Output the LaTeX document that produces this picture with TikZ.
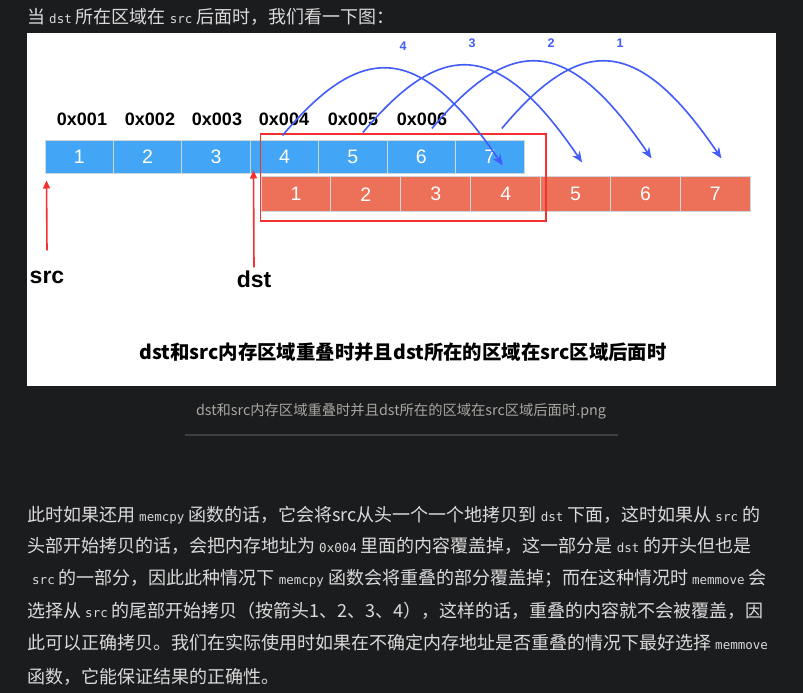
\documentclass[tikz,border=0pt]{standalone}
\usepackage{fontspec}
\setmainfont{Liberation Sans}
\newfontfamily\cjk{Noto Sans CJK SC}
\newfontfamily\codefont{DejaVu Sans Mono}
\usetikzlibrary{arrows.meta,calc}

\newlength{\du}
\setlength{\du}{1pt}

\definecolor{pagebg}{RGB}{27,28,30}
\definecolor{bodytext}{RGB}{218,218,218}
\definecolor{filetext}{RGB}{168,166,160}
\definecolor{rulegray}{RGB}{62,63,66}
\definecolor{cellblue}{RGB}{66,165,245}
\definecolor{cellred}{RGB}{237,112,88}
\definecolor{cellline}{RGB}{205,215,222}
\definecolor{arcblue}{RGB}{66,92,250}
\definecolor{ptrred}{RGB}{245,48,48}

\newcommand{\inlinecode}[1]{{\codefont\fontsize{12.5}{14}\selectfont #1}}

\tikzset{
  srccell/.style={rectangle, fill=cellblue, draw=cellline, line width=1\du,
    minimum width=68.4\du, minimum height=33\du, inner sep=0pt,
    text=white, font=\fontsize{19.5}{22}\selectfont},
  dstcell/.style={srccell, fill=cellred, minimum width=69.9\du, minimum height=34.5\du},
  addr/.style={inner sep=0pt, font=\bfseries\fontsize{18}{20}\selectfont},
  ptrlabel/.style={inner sep=0pt, font=\bfseries\fontsize{23}{25}\selectfont},
  ptr/.style={draw=ptrred, line width=1.6\du, -{Triangle[length=8pt,width=7pt]}},
  overlap/.style={draw=ptrred, line width=1.8\du},
  copyarrow/.style={draw=arcblue, line width=1.6\du, -{Stealth[length=11pt,width=9pt]}},
  arcnum/.style={inner sep=0pt, text=arcblue, font=\bfseries\fontsize{12.5}{14}\selectfont},
  figcap/.style={inner sep=0pt, font=\cjk\bfseries\fontsize{19.4}{22}\selectfont},
  bodyline/.style={anchor=west, inner sep=0pt, text=bodytext, font=\cjk\fontsize{18}{20}\selectfont},
  filecap/.style={inner sep=0pt, text=filetext, font=\cjk\fontsize{14.3}{16}\selectfont},
}

\begin{document}
\begin{tikzpicture}
\pgftransformxscale{1.000000}
\pgftransformyscale{-1.000000}
\useasboundingbox (0\du,0\du) rectangle (803\du,693\du);
\fill[pagebg] (0\du,0\du) rectangle (803\du,693\du);
\node[bodyline] (intro) at (27\du,17\du){当 \inlinecode{dst} 所在区域在 \inlinecode{src} 后面时，我们看一下图：};
\fill[white] (27\du,33\du) rectangle (776\du,386\du);

% src row
\node[srccell] (b1) at (79.2\du,156.5\du){1};
\node[srccell] (b2) at (147.6\du,156.5\du){2};
\node[srccell] (b3) at (216.1\du,156.5\du){3};
\node[srccell] (b4) at (284.5\du,156.5\du){4};
\node[srccell] (b5) at (352.9\du,156.5\du){5};
\node[srccell] (b6) at (421.4\du,156.5\du){6};
\node[srccell] (b7) at (489.8\du,156.5\du){7};

% dst row
\node[dstcell] (r1) at (296.0\du,194.2\du){1};
\node[dstcell] (r2) at (365.9\du,194.2\du){2};
\node[dstcell] (r3) at (435.8\du,194.2\du){3};
\node[dstcell] (r4) at (505.7\du,194.2\du){4};
\node[dstcell] (r5) at (575.6\du,194.2\du){5};
\node[dstcell] (r6) at (645.5\du,194.2\du){6};
\node[dstcell] (r7) at (715.4\du,194.2\du){7};

\node[addr] (a1) at (82\du,119\du){0x001};
\node[addr] (a2) at (150\du,119\du){0x002};
\node[addr] (a3) at (217\du,119\du){0x003};
\node[addr] (a4) at (284\du,119\du){0x004};
\node[addr] (a5) at (353\du,119\du){0x005};
\node[addr] (a6) at (422\du,119\du){0x006};

\draw[overlap] (260.5\du,134\du) rectangle (546\du,221\du);

\node[ptrlabel] (srcl) at (47\du,277\du){src};
\node[ptrlabel] (dstl) at (254\du,279\du){dst};
\draw[ptr] ($(srcl.north)+(0pt,-20pt)$) -- ($(b1.south west)+(2pt,7pt)$);
\draw[ptr] ($(dstl.north)+(0pt,-3pt)$) -- ($(b4.south west)+(3.7pt,-3pt)$);

% copied from the tail first
\draw[copyarrow] ($(b7.north)+(12pt,-11pt)$) .. controls +(79pt,-94pt) and +(-84pt,-124pt) .. ($(r7.north)+(6pt,-18pt)$);
\draw[copyarrow] ($(b6.north)+(10.5pt,-11pt)$) .. controls +(79pt,-94pt) and +(-84pt,-124pt) .. ($(r6.north)+(6pt,-18pt)$);
\draw[copyarrow] ($(b5.north)+(10pt,-7pt)$) .. controls +(79pt,-94pt) and +(-84pt,-124pt) .. ($(r5.north)+(6.5pt,-14pt)$);
\draw[copyarrow] ($(b4.north)+(-2pt,-4pt)$) .. controls +(79pt,-94pt) and +(-84pt,-124pt) .. ($(r4.north)+(-3pt,-11pt)$);
\node[arcnum] (n1) at (620\du,43\du){1};
\node[arcnum] (n2) at (551\du,43\du){2};
\node[arcnum] (n3) at (472\du,43\du){3};
\node[arcnum] (n4) at (403\du,46\du){4};

\node[figcap] (cap) at (403\du,352\du){dst和src内存区域重叠时并且dst所在的区域在src区域后面时};

\node[filecap] (fname) at (401\du,411\du){dst和src内存区域重叠时并且dst所在的区域在src区域后面时.png};
\draw[rulegray, line width=1.2\du] (185\du,435\du) -- (618\du,435\du);

\node[bodyline] (p1) at (27\du,515\du){此时如果还用 \inlinecode{memcpy} 函数的话，它会将src从头一个一个地拷贝到 \inlinecode{dst} 下面，这时如果从 \inlinecode{src} 的};
\node[bodyline] (p2) at (27\du,546\du){头部开始拷贝的话，会把内存地址为 \inlinecode{0x004} 里面的内容覆盖掉，这一部分是 \inlinecode{dst} 的开头但也是};
\node[bodyline] (p3) at (32\du,578\du){\inlinecode{src} 的一部分，因此此种情况下 \inlinecode{memcpy} 函数会将重叠的部分覆盖掉；而在这种情况时 \inlinecode{memmove} 会};
\node[bodyline] (p4) at (27\du,611\du){选择从 \inlinecode{src} 的尾部开始拷贝（按箭头1、2、3、4），这样的话，重叠的内容就不会被覆盖，因};
\node[bodyline] (p5) at (27\du,643\du){此可以正确拷贝。我们在实际使用时如果在不确定内存地址是否重叠的情况下最好选择 \inlinecode{memmove}};
\node[bodyline] (p6) at (27\du,677\du){函数，它能保证结果的正确性。};
\end{tikzpicture}
\end{document}
